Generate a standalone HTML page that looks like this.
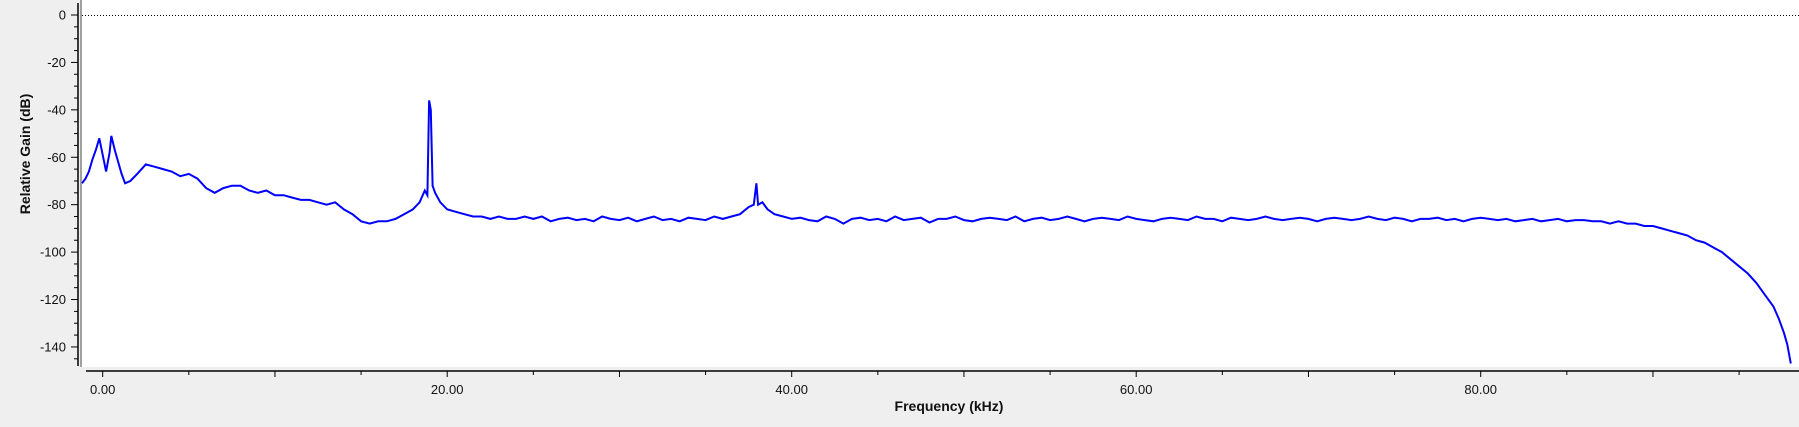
<!DOCTYPE html>
<html><head><meta charset="utf-8">
<style>
html,body{margin:0;padding:0;background:#efefef;}
body{width:1799px;height:422px;overflow:hidden;font-family:"Liberation Sans",sans-serif;}
svg text{font-family:"Liberation Sans",sans-serif;}
</style></head>
<body>
<svg id="chart" width="1799" height="422" xmlns="http://www.w3.org/2000/svg">
<rect x="81" y="0" width="1718" height="367" fill="#ffffff"/>
<line x1="81" y1="0" x2="81" y2="367" stroke="#a0a0a0" stroke-width="2"/>
<g id="yaxis"></g>
<g id="xaxis"></g>
<line id="refline" stroke="#000" stroke-width="1" stroke-dasharray="1,2"/>
<path id="trace" fill="none" stroke="#0000ff" stroke-width="2" stroke-linejoin="miter"/>
<text x="0" y="0" transform="translate(30,154) rotate(-90)" text-anchor="middle" font-size="14" font-weight="bold" fill="#111">Relative Gain (dB)</text>
<text x="949" y="411" text-anchor="middle" font-size="14" font-weight="bold" fill="#111">Frequency (kHz)</text>
</svg>
<script>
const freqsA = [-1.2,-1.0,-0.8,-0.6,-0.4,-0.2,0,0.2,0.4,0.5,0.7,0.9,1.1,1.3,1.6,2.0,2.5,3.0,3.5,4.0,4.5,5.0,5.5,6.0,6.5,7.0,7.5,8.0,8.5,9.0,9.5,10,10.5,11,11.5,12,12.5,13,13.5,14,14.5,15,15.5,16,16.5,17,17.5,18,18.4,18.7,18.85,18.95,19.05,19.15,19.3,19.6,20,20.5,21,21.5,22,22.5,23,23.5,24,24.5];
const gainsA = [-71,-69,-66,-61,-57,-52,-59,-66,-58,-51,-57,-62,-67,-71,-70,-67,-63,-64,-65,-66,-68,-67,-69,-73,-75,-73,-72,-72,-74,-75,-74,-76,-76,-77,-78,-78,-79,-80,-79,-82,-84,-87,-88,-87,-87,-86,-84,-82,-79,-74,-76,-36,-40,-72,-75,-79,-82,-83,-84,-85,-85,-86,-85,-86,-86,-85];
const freqsB = [25,25.5,26,26.5,27,27.5,28,28.5,29,29.5,30,30.5,31,31.5,32,32.5,33,33.5,34,34.5,35,35.5,36,36.5,37,37.5,37.8,37.95,38.05,38.3,38.6,39,39.5];
const gainsB = [-86,-85,-87,-86,-85.5,-86.5,-86,-87,-85,-86,-86.5,-85.5,-87,-86,-85,-86.5,-86,-87,-85.5,-86,-86.5,-85,-86,-85,-84,-81,-80,-71,-80,-79,-82,-84,-85];
const gainsC = [-86,-85.5,-86.5,-87,-85,-86,-88,-86,-85.5,-86.5,-86,-87,-85,-86.5,-86,-85.5,-87.5,-86,-86,-85,-86.5,-87,-86,-85.5,-86,-86.5,-85,-87,-86,-85.5,-86.5,-86,-85,-86,-87,-86,-85.5,-86,-86.5,-85,-86,-86.5,-87,-86,-85.5,-86,-86.5,-85,-86,-86,-87,-85.5,-86,-86.5,-86,-85,-86,-86.5,-86,-85.5,-86,-87,-86,-85.5,-86,-86.5,-86,-85,-86,-86.5,-85.5,-86,-87,-86,-86,-85.5,-86.5,-86,-87,-86,-85.5,-86,-86.5,-86,-87,-86.5,-86,-87,-86.5,-86,-87,-86.5,-86.5];
const freqsD = [86.5,87,87.5,88,88.5,89,89.5,90,90.5,91,91.5,92,92.5,93,93.5,94,94.5,95,95.5,96,96.5,97,97.3,97.6,97.8,98];
const gainsD = [-87,-87,-88,-87,-88,-88,-89,-89,-90,-91,-92,-93,-95,-96,-98,-100,-103,-106,-109,-113,-118,-123,-128,-134,-139,-147];
const yTickLabels = ["0","-20","-40","-60","-80","-100","-120","-140"];
const xTickLabels = ["0.00","20.00","40.00","60.00","80.00"];

const NS="http://www.w3.org/2000/svg";
function xs(f){return 102.7+f*17.225;}
function ys(d){return 15-d*2.371;}
function mk(tag,attrs,parent){const e=document.createElementNS(NS,tag);for(const k in attrs)e.setAttribute(k,attrs[k]);parent.appendChild(e);return e;}

const freqs=[], gains=[];
freqsA.forEach((f,i)=>{freqs.push(f);gains.push(gainsA[i]);});
freqsB.forEach((f,i)=>{freqs.push(f);gains.push(gainsB[i]);});
gainsC.forEach((g,i)=>{freqs.push(40+i*0.5);gains.push(g);});
freqsD.forEach((f,i)=>{freqs.push(f);gains.push(gainsD[i]);});
let d="";
freqs.forEach((f,i)=>{d+=(i?"L":"M")+xs(f).toFixed(1)+","+ys(gains[i]).toFixed(1);});
document.getElementById('trace').setAttribute('d',d);

const rl=document.getElementById('refline');
rl.setAttribute('x1',82);rl.setAttribute('x2',1799);rl.setAttribute('y1',ys(0)+0.5);rl.setAttribute('y2',ys(0)+0.5);

const ya=document.getElementById('yaxis');
const yl=mk('line',{x1:78,y1:3,x2:78,y2:366,stroke:'#000','stroke-width':1.5},ya);


for(let v=0;v>=-145;v-=5){
  const major=(v%20===0);
  const t=mk('line',{x1:major?71:74,x2:78,y1:ys(v),y2:ys(v),stroke:'#000','stroke-width':1},ya);
  
  
}
yTickLabels.forEach(s=>{
  const v=parseFloat(s);
  const t=mk('text',{x:66,y:ys(v)+4.5,'text-anchor':'end','font-size':'13',fill:'#111'},ya);
  t.textContent=s;
  
  
});

const xa=document.getElementById('xaxis');
const xl=mk('line',{x1:86,y1:371,x2:1799,y2:371,stroke:'#000','stroke-width':1.5},xa);


for(let f=0;f<=95;f+=5){
  const major=(f%10===0);
  const t=mk('line',{x1:xs(f),x2:xs(f),y1:371,y2:major?377:375,stroke:'#000','stroke-width':1},xa);
  
  
}
xTickLabels.forEach(s=>{
  const v=parseFloat(s);
  const t=mk('text',{x:xs(v),y:394,'text-anchor':'middle','font-size':'13',fill:'#111'},xa);
  t.textContent=s;
  
  
});
</script>
</body></html>
